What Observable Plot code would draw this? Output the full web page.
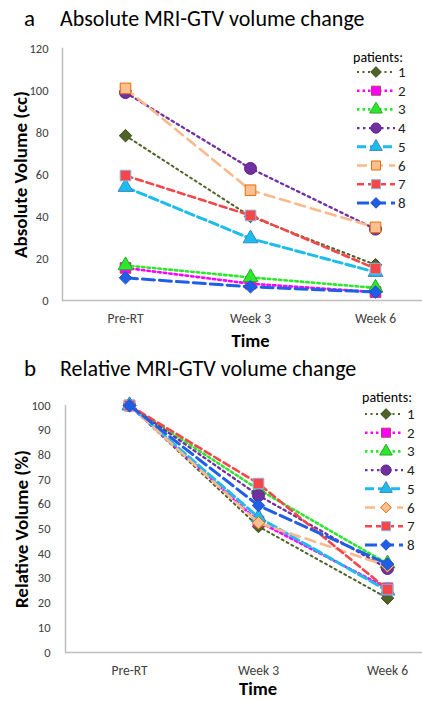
<!DOCTYPE html>
<html>
<head>
<meta charset="utf-8">
<script src="https://cdn.jsdelivr.net/npm/d3@7"></script>
<script src="https://cdn.jsdelivr.net/npm/@observablehq/plot@0.6"></script>
<style>
  body { margin: 0; background: #fff; }
  #wrap { position: relative; width: 422px; height: 701px; overflow: hidden; font-family: Carlito, Calibri, Lato, "Open Sans", sans-serif; }
  #wrap > svg { position: absolute; left: 0; }
</style>
</head>
<body>
<div id="wrap"></div>
<script>
// ---------- data ----------
const times = ["Pre-RT", "Week 3", "Week 6"];
const patients = ["1", "2", "3", "4", "5", "6", "7", "8"];
// absolute MRI-GTV volume (cc) per patient 1..8
const absPreRT = [78.5, 15.5, 16.7, 99, 54, 101, 59.5, 10.8];
const absWeek3 = [40, 8, 11, 62.9, 29.5, 52.5, 40.5, 6.5];
const absWeek6 = [17, 4, 6, 34, 13.5, 34.8, 15.2, 4];
// relative volume (%) per patient 1..8
const relPreRT = [100, 100, 100, 100, 100, 100, 100, 100];
const relWeek3 = [51, 53, 66, 63.6, 54.7, 52.5, 68.4, 59.5];
const relWeek6 = [22, 26, 36, 34, 25, 35, 25.5, 35.8];
const yTicksAbs = [0, 20, 40, 60, 80, 100, 120];
const yTicksRel = [0, 10, 20, 30, 40, 50, 60, 70, 80, 90, 100];

// ---------- styles ----------
const lineColors = ["#4F6228", "#FF00FF", "#2EE62E", "#7030A0", "#1CBCEB", "#F9B98A", "#F5474A", "#1F5FE6"];
const markFill   = ["#4F6228", "#FF00FF", "#2EE62E", "#7030A0", "#1CBCEB", "#FAC090", "#F5474A", "#1F5FE6"];
const markStroke = ["#3B4A1E", "#B04060", "#2AAA2A", "#5A2585", "#3E86C8", "#E46C0A", "#8EB4E3", "#1F4FCC"];
const dashes = ["2,3.5", "2.5,3", "2.5,3", "2.5,3.5", "9,4", "10,6", "7,4", "12,5"];
const widths = [2, 2.6, 2.6, 2.3, 3, 2.6, 2.6, 3];

const diamondSq = { draw(ctx, size) { const r = Math.sqrt(size / 2); ctx.moveTo(0, -r); ctx.lineTo(r, 0); ctx.lineTo(0, r); ctx.lineTo(-r, 0); ctx.closePath(); } };
const symA = [diamondSq, "square", "triangle", "circle", "triangle", "square", "square", diamondSq];
const symB = [diamondSq, "square", "triangle", "circle", "triangle", diamondSq, "square", diamondSq];
const rSize = { square: 6, circle: 6, triangle: 5.5, diamond: 5 };
const rOf = s => (s === diamondSq ? rSize.diamond : rSize[s]);
const font = "Carlito, Calibri, Lato, 'Open Sans', sans-serif";

function panel(cols, o) {
  const rows = patients.flatMap((p, i) => times.map((t, j) => ({ patient: p, time: t, value: cols[j][i] })));
  const marks = [
    Plot.frame({ anchor: "left", stroke: "#BFBFBF", strokeWidth: 1.5 }),
    Plot.ruleY([0], { stroke: "#BFBFBF", strokeWidth: 1.5 }),
    Plot.axisY({ ticks: o.ticks, tickSize: 0, tickPadding: o.tickPad, fontSize: 12.5, fill: "#404040", label: null }),
    Plot.axisX({ tickSize: 0, tickPadding: 13, fontSize: 13.5, fill: "#404040", label: null }),
    Plot.text([o.yLabel], { text: d => d, frameAnchor: "left", rotate: -90, dx: o.yLabelDx, textAnchor: "middle", lineAnchor: "middle", fontWeight: "bold", fontSize: 19, fill: "#000" }),
    Plot.text(["Time"], { text: d => d, frameAnchor: "bottom", dx: o.timeDx, dy: o.timeDy, textAnchor: "middle", lineAnchor: "middle", fontWeight: "bold", fontSize: 18.5, fill: "#000" })
  ];
  patients.forEach((p, i) => {
    const d = rows.filter(r => r.patient === p);
    marks.push(Plot.line(d, { x: "time", y: "value", stroke: lineColors[i], strokeWidth: widths[i], strokeDasharray: dashes[i] }));
    marks.push(Plot.dot(d, { x: "time", y: "value", symbol: o.syms[i], r: rOf(o.syms[i]), fill: markFill[i], stroke: markStroke[i], strokeWidth: 1 }));
  });
  const svg = Plot.plot({
    width: 422, height: o.height,
    marginLeft: o.ml, marginRight: 0, marginTop: o.mt, marginBottom: o.mb,
    x: { type: "point", domain: times, range: o.xr, padding: 0, label: null },
    y: { domain: o.yDomain, label: null },
    style: { fontFamily: font, background: "transparent", overflow: "visible" },
    marks
  });
  svg.style.top = o.top + "px";
  return svg;
}

const wrap = document.getElementById("wrap");
wrap.appendChild(panel([absPreRT, absWeek3, absWeek6], {
  top: 30, height: 320, ml: 62, mt: 18, mb: 50, xr: [125, 375], yDomain: [0, 120], ticks: yTicksAbs,
  tickPad: 14, yLabel: "Absolute Volume (cc)", yLabelDx: -42, timeDx: 8, timeDy: 41, syms: symA
}));
wrap.appendChild(panel([relPreRT, relWeek3, relWeek6], {
  top: 380, height: 321, ml: 65, mt: 25, mb: 49, xr: [128, 387], yDomain: [0, 100], ticks: yTicksRel,
  tickPad: 15, yLabel: "Relative Volume (%)", yLabelDx: -44, timeDx: 14, timeDy: 37, syms: symB
}));

// ---------- titles and legends (overlay) ----------
const ov = d3.create("svg").attr("width", 422).attr("height", 701).style("top", "0px").style("font-family", font);
function title(letter, text, base) {
  ov.append("text").attr("x", 24).attr("y", base).attr("font-size", 23).attr("fill", "#000").text(letter);
  ov.append("text").attr("x", 60).attr("y", base).attr("font-size", 22).attr("fill", "#000").text(text);
}
title("a", "Absolute MRI-GTV volume change", 26);
title("b", "Relative MRI-GTV volume change", 376);

function legend(cx, headY, y0, step, x1, x2, mx, nx, syms) {
  ov.append("text").attr("x", cx).attr("y", headY).attr("text-anchor", "middle").attr("dominant-baseline", "central")
    .attr("font-size", 14).attr("fill", "#000").text("patients:");
  patients.forEach((p, i) => {
    const y = y0 + i * step;
    ov.append("line").attr("x1", x1).attr("x2", x2).attr("y1", y).attr("y2", y)
      .attr("stroke", lineColors[i]).attr("stroke-width", widths[i]).attr("stroke-dasharray", dashes[i]);
    const s = syms[i];
    const type = s === diamondSq ? diamondSq : s === "square" ? d3.symbolSquare : s === "circle" ? d3.symbolCircle : d3.symbolTriangle;
    const r = rOf(s) * 0.85;
    ov.append("path").attr("d", d3.symbol(type, Math.PI * r * r)()).attr("transform", `translate(${mx},${y})`)
      .attr("fill", markFill[i]).attr("stroke", markStroke[i]).attr("stroke-width", 1);
    ov.append("text").attr("x", nx).attr("y", y).attr("dominant-baseline", "central").attr("font-size", 15).attr("fill", "#222").text(p);
  });
}
legend(378, 57, 72, 18.7, 357, 395, 376, 398, symA);
legend(387, 397, 414, 18.7, 365, 403, 386, 407, symB);
wrap.appendChild(ov.node());
</script>
</body>
</html>
